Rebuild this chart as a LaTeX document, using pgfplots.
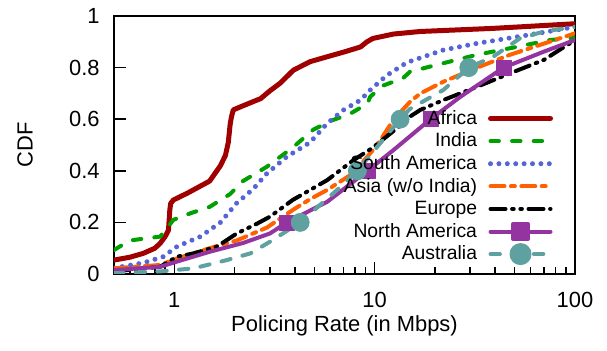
\documentclass[border=0pt]{standalone}
\usepackage{fontspec}
\setmainfont{Liberation Sans}
\usepackage{pgfplots}
\pgfplotsset{compat=1.18}
\definecolor{cafrica}{RGB}{160,0,0}
\definecolor{cindia}{RGB}{0,160,0}
\definecolor{csam}{RGB}{85,100,215}
\definecolor{casia}{RGB}{255,96,0}
\definecolor{cnam}{RGB}{148,52,160}
\definecolor{caus}{RGB}{95,160,160}
\begin{document}
\begin{tikzpicture}
\begin{axis}[
  xmode=log, scale only axis, width=230.5bp, height=129bp,
  xmin=0.5, xmax=100, ymin=0, ymax=1,
  xtick={1,10,100}, xticklabels={1,10,100},
  minor xtick={0.6,0.7,0.8,0.9,2,3,4,5,6,7,8,9,20,30,40,50,60,70,80,90},
  ytick={0,0.2,0.4,0.6,0.8,1}, yticklabels={0,0.2,0.4,0.6,0.8,1},
  tick align=inside, xtick pos=bottom, ytick pos=left,
  major tick length=6bp, minor tick length=3.5bp,
  every tick/.style={black, line width=0.8bp},
  axis line style={line width=1bp},
  tick label style={font=\fontsize{11}{13}\selectfont},
  /pgf/number format/assume math mode=true,
  xticklabel style={inner sep=0pt, yshift=-8.8bp},
  yticklabel style={inner sep=0pt, xshift=-7bp},
  xlabel={Policing Rate (in Mbps)}, ylabel={CDF},
  label style={font=\fontsize{11}{13}\selectfont},
  xlabel style={at={(axis description cs:0.5,-0.2)}, anchor=center},
  ylabel style={at={(axis description cs:-0.193,0.5)}, anchor=center},
  legend style={draw=none, fill=none, at={(axis description cs:0.9523,0.6465)}, anchor=north east,
    inner sep=0pt, outer sep=0pt, row sep=0pt, column sep=5.5bp,
    font=\fontsize{9.7}{11}\selectfont,
    nodes={inner sep=0pt, text height=8.5bp, text depth=2.8bp}},
  legend cell align=right, legend plot pos=right,
  legend image code/.code={\draw[mark repeat=2,mark phase=2,#1] plot coordinates {(0bp,0bp) (15bp,0bp) (30bp,0bp)};},
  every axis plot/.append style={line cap=round, line join=round},
]
% Africa
\addplot[cafrica, line width=2.5bp] coordinates {
(0.5,0.054) (0.6,0.065) (0.7,0.08) (0.8,0.1) (0.85,0.119) (0.9,0.145) (0.935,0.17) (0.95,0.25) (0.96,0.274) (0.99,0.287) (1.16,0.313) (1.5,0.36) (1.7,0.42) (1.8,0.46) (1.86,0.51) (1.9,0.58) (1.93,0.61) (1.97,0.636) (2.14,0.648) (2.7,0.68) (3.0,0.71) (3.38,0.74) (3.93,0.79) (4.76,0.823) (5.79,0.842) (7,0.86) (8.5,0.88) (9.15,0.9) (9.8,0.913) (12.4,0.93) (16.9,0.94) (39,0.952) (100,0.97)};
\addlegendentry{Africa}
% India
\addplot[cindia, line width=2bp, dash pattern=on 4.2bp off 6.6bp] coordinates {
(0.5,0.093) (0.6,0.13) (0.85,0.145) (0.99,0.21) (1.2,0.235) (1.5,0.26) (1.9,0.31) (2.2,0.36) (2.9,0.416) (3.9,0.49) (4.95,0.56) (6.2,0.597) (7.5,0.62) (9.2,0.66) (9.5,0.687) (11,0.73) (13.9,0.76) (15,0.784) (22,0.817) (32.5,0.85) (51,0.88) (75,0.907) (100,0.915)};
\addlegendentry{India}
% South America
\addplot[csam, line width=2.5bp, dash pattern=on 0bp off 4.2bp] coordinates {
(0.5,0.023) (0.7,0.043) (0.88,0.067) (1.03,0.106) (1.35,0.145) (1.7,0.2) (2.05,0.275) (2.48,0.33) (2.9,0.39) (3.65,0.455) (4.76,0.51) (5.8,0.584) (7,0.636) (8.5,0.674) (9.5,0.713) (11.5,0.77) (14.5,0.82) (22,0.868) (32.5,0.894) (58,0.926) (100,0.958)};
\addlegendentry{South America}
% Asia
\addplot[casia, line width=2bp, dash pattern=on 7bp off 3.2bp on 2bp off 3.2bp] coordinates {
(0.5,0.022) (0.85,0.035) (1.03,0.06) (1.5,0.1) (2.05,0.13) (2.9,0.18) (3.9,0.248) (4.76,0.29) (5.8,0.326) (7.8,0.39) (9.8,0.48) (10.7,0.52) (12.4,0.597) (15,0.667) (16.9,0.7) (22,0.745) (32.5,0.8) (47.5,0.85) (70,0.893) (100,0.933)};
\addlegendentry{Asia (w/o India)}
% Europe
\addplot[black, line width=2bp, dash pattern=on 7.5bp off 3.3bp on 0.8bp off 3.3bp on 0.8bp off 3.3bp] coordinates {
(0.5,0.01) (0.85,0.028) (1.03,0.067) (1.25,0.08) (1.63,0.106) (2.05,0.157) (2.6,0.196) (3,0.222) (3.9,0.287) (5.8,0.364) (7.8,0.44) (9.8,0.49) (13.9,0.585) (15,0.61) (16.9,0.636) (22,0.674) (32.5,0.726) (47.5,0.778) (70,0.83) (100,0.907)};
\addlegendentry{Europe}
% North America
\addplot[cnam, line width=2bp, forget plot] coordinates {
(0.5,0.015) (0.85,0.028) (1.03,0.048) (1.5,0.086) (2.2,0.12) (3,0.157) (3.65,0.2) (5.8,0.28) (9.2,0.4) (12.4,0.48) (19,0.6) (26.8,0.687) (44,0.8) (70,0.862) (100,0.907)};
\addplot[cnam, only marks, mark=square*, mark size=3.75bp, mark options={solid, line join=round, fill=cnam}, forget plot] coordinates {
(3.65,0.2) (9.2,0.4) (19,0.6) (44,0.8)};
\addlegendimage{cnam, line width=2bp, mark=square*, mark size=3.75bp, mark options={solid, line join=round, fill=cnam}}
\addlegendentry{North America}
% Australia
\addplot[caus, line width=2bp, dash pattern=on 4.7bp off 6.15bp, forget plot] coordinates {
(0.5,0.003) (0.85,0.01) (1.25,0.022) (1.83,0.054) (2.4,0.08) (3,0.125) (4.25,0.2) (6.5,0.326) (8.2,0.4) (13.4,0.6) (15,0.64) (22,0.713) (29.5,0.8) (39,0.842) (53,0.913) (70,0.94) (100,0.958)};
\addplot[caus, only marks, mark=*, mark size=4.5bp, mark options={solid, fill=caus}, forget plot] coordinates {
(4.25,0.2) (8.2,0.4) (13.4,0.6) (29.5,0.8)};
\addlegendimage{caus, line width=2bp, dash pattern=on 4.7bp off 6.15bp, mark=*, mark size=4.5bp, mark options={solid, fill=caus}}
\addlegendentry{Australia}
\end{axis}
\pgfresetboundingbox
\path[use as bounding box] (-57bp,-38.5bp) rectangle (246.5bp,137bp);
\end{tikzpicture}
\end{document}
